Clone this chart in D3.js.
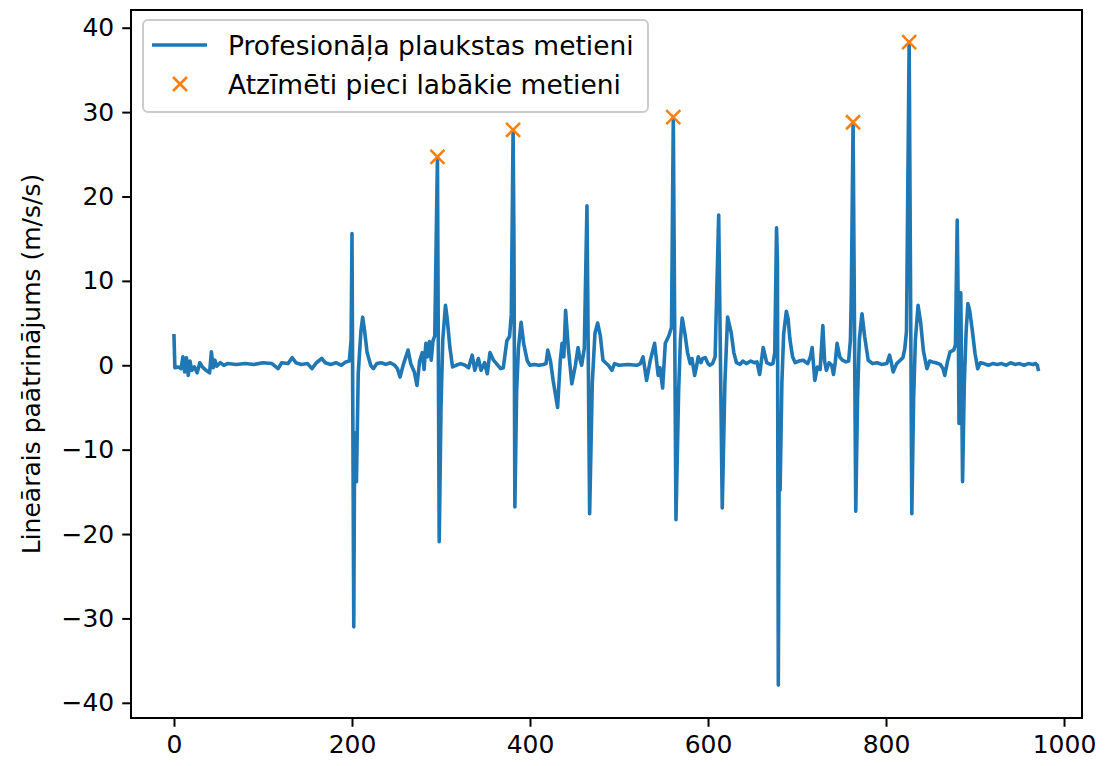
<!DOCTYPE html>
<html>
<head>
<meta charset="utf-8">
<script src="https://cdn.jsdelivr.net/npm/d3@7"></script>
<style>
  html, body { margin: 0; padding: 0; background: #fff; }
  svg { display: block; }
  text { font-family: "DejaVu Sans", sans-serif; fill: #000; }
</style>
</head>
<body>
<svg id="chart" width="1106" height="766"></svg>
<script>
// ---- data ----
const sampleIndex = [
  0,1,5,8,10,12,14,16,18,20,23,26,29,32,36,40,42,44,46,48,52,56,60,70,80,90,100,110,117,121,128,133,137,143,150,155,160,166,170,176,182,188,193,197,
  199,200,202,203,205,207,210,212,214,217,221,224,228,233,238,243,248,251,254,258,263,266,270,273,276,279,281,283,285,287,289,291,293,
  296,298,300,302,305,307,310,313,317,322,327,331,335,338,342,345,349,352,355,359,363,367,370,374,377,379,
  381,382,383,385,387,390,393,397,400,405,410,415,418,420,423,426,431,434,436,438,440,443,447,451,454,456,458,461,
  464,467,470,473,476,479,482,485,488,492,495,500,510,520,524,527,531,535,540,544,546,549,552,556,559,
  561,564,567,569,571,574,577,580,582,585,587,589,592,594,597,600,602,605,608,
  612,616,619,622,626,629,632,636,639,643,648,652,655,658,662,666,670,673,675,
  677,678,679,680,681,683,685,688,690,692,695,698,702,707,712,715,717,720,723,726,729,731,733,736,739,741,743,745,748,751,755,758,760,761,
  763,766,768,770,773,776,780,785,790,795,801,804,806,808,812,816,819,821,823,
  826,829,831,833,836,839,842,846,849,852,856,861,864,866,869,872,876,878,
  880,881,882,884,886,888,890,892,894,897,900,903,906,910,915,920,925,930,935,940,945,950,955,960,965,968,970,971
];
const acceleration = [
  3.5,-0.3,-0.2,-0.4,1.0,-0.8,0.9,-1.2,0.5,-0.6,-0.2,-0.9,0.3,-0.2,-0.6,-0.9,1.6,-0.3,0.6,-0.1,0.3,0.0,0.2,0.1,0.2,0.1,0.3,0.2,-0.4,0.3,0.2,0.9,0.3,0.1,0.2,-0.4,0.3,0.8,0.3,0.1,0.3,0.0,0.4,0.5,
  3.0,15.6,-31.0,-8.0,-13.8,-1.0,4.0,5.7,4.2,1.5,0.0,-0.4,0.2,0.3,0.1,0.3,0.0,-0.4,-1.4,0.2,1.8,0.2,-0.8,-2.4,0.5,1.5,-0.5,2.6,1.0,2.8,0.6,2.9,3.5,
  24.7,-20.9,-5.0,3.0,7.1,5.5,2.1,-0.2,0.0,0.2,0.0,-0.3,1.2,-0.6,0.8,-0.6,0.3,-1.0,1.5,0.6,0.1,-0.4,-0.3,2.9,3.4,6.0,
  27.9,14.4,-16.8,-3.0,2.0,5.1,2.5,0.5,0.0,0.1,0.0,0.1,0.2,1.8,0.5,-1.8,-5.0,0.5,2.6,1.0,6.5,2.1,-2.2,0.0,2.1,0.8,0.0,2.0,
  18.9,-17.6,-2.0,3.8,5.0,3.5,0.6,0.3,0.0,-0.6,0.2,0.0,0.1,0.0,0.2,1.0,-1.8,0.5,2.6,-1.2,-0.3,-2.7,2.6,3.5,4.5,
  29.4,-18.3,-3.0,3.0,5.6,3.8,1.5,0.2,0.8,-1.2,-0.2,1.0,0.3,0.8,0.9,0.2,0.0,0.2,1.0,
  17.8,-16.9,-2.0,5.7,3.9,1.5,0.3,0.1,0.5,0.2,0.5,0.3,0.4,-1.1,2.1,0.3,0.1,0.2,1.5,
  16.3,12.4,-37.9,-10.0,-14.8,-2.0,3.7,6.4,5.5,3.1,1.0,0.3,0.5,0.6,0.2,1.0,2.1,-1.8,-0.2,-0.5,4.7,0.5,-0.6,0.3,0.0,-1.1,0.4,2.6,1.0,0.6,0.4,0.5,3.0,8.4,
  28.8,-17.3,-4.0,3.0,6.1,3.4,0.6,0.2,0.3,0.1,0.2,1.2,0.3,-0.8,0.2,0.6,0.9,1.9,4.0,
  38.3,-17.6,-4.0,3.0,7.1,5.0,1.7,-0.4,0.5,0.4,0.3,0.1,-0.4,-1.2,0.4,1.6,1.8,2.4,
  17.2,8.0,-6.9,8.6,-13.8,-2.0,4.0,7.3,6.5,4.1,1.4,-0.4,0.3,0.2,0.0,0.2,0.1,0.2,0.0,0.3,0.1,0.2,0.0,0.2,0.1,0.2,0.0,-0.5
];
const bestIndex = [296, 381, 561, 763, 826];
const bestValue = [24.7, 27.9, 29.4, 28.8, 38.3];
const xTicks = [0, 200, 400, 600, 800, 1000];
const yTicks = [-40, -30, -20, -10, 0, 10, 20, 30, 40];
const lineLabel = "Profesionāļa plaukstas metieni";
const markerLabel = "Atzīmēti pieci labākie metieni";
const yLabel = "Lineārais paātrinājums (m/s/s)";

// ---- layout ----
const svg = d3.select("#chart");
const L = 131, R = 1082, T = 10, B = 718;
const FS = 25, LFS = 26.5;
const blue = "#1f77b4", orange = "#ff7f0e";

const x = d3.scaleLinear().domain([-48.3, 1020.2]).range([L, R]);
const y = d3.scaleLinear().domain([-41.8, 42.1]).range([B, T]);

const series = sampleIndex.map((d, i) => ({ x: d, y: acceleration[i] }));
const best = bestIndex.map((d, i) => ({ x: d, y: bestValue[i] }));

// line
svg.append("path")
  .datum(series)
  .attr("fill", "none")
  .attr("stroke", blue)
  .attr("stroke-width", 3.6)
  .attr("stroke-linejoin", "round")
  .attr("stroke-linecap", "square")
  .attr("d", d3.line().x(d => x(d.x)).y(d => y(d.y)));

// markers (x shape)
const ms = 7;
svg.append("g").selectAll("path").data(best).join("path")
  .attr("d", d => {
    const cx = x(d.x), cy = y(d.y);
    return `M${cx-ms},${cy-ms}L${cx+ms},${cy+ms}M${cx-ms},${cy+ms}L${cx+ms},${cy-ms}`;
  })
  .attr("stroke", orange)
  .attr("stroke-width", 2.6)
  .attr("fill", "none");

// axes
const xAxis = d3.axisBottom(x).tickValues(xTicks).tickSize(8.75).tickPadding(8).tickFormat(d3.format("d"));
const yAxis = d3.axisLeft(y).tickValues(yTicks).tickSize(8.75).tickPadding(8)
  .tickFormat(d => d < 0 ? "\u2212" + Math.abs(d) : String(d));

const gx = svg.append("g").attr("transform", `translate(0,${B})`).call(xAxis);
const gy = svg.append("g").attr("transform", `translate(${L},0)`).call(yAxis);
[gx, gy].forEach(g => {
  g.select(".domain").remove();
  g.selectAll(".tick line").attr("stroke", "#000").attr("stroke-width", 2);
  g.selectAll(".tick text").attr("font-size", FS).attr("font-family", "DejaVu Sans").attr("fill", "#000");
});

// frame
svg.append("rect").attr("x", L).attr("y", T).attr("width", R - L).attr("height", B - T)
  .attr("fill", "none").attr("stroke", "#000").attr("stroke-width", 2);

// y label
svg.append("text")
  .attr("transform", `translate(31,${(T + B) / 2}) rotate(-90)`)
  .attr("text-anchor", "middle")
  .attr("dominant-baseline", "central")
  .attr("font-size", FS)
  .text(yLabel);

// legend
const lg = svg.append("g");
lg.append("rect").attr("x", 143).attr("y", 20).attr("width", 505).attr("height", 92)
  .attr("rx", 5).attr("fill", "#fff").attr("fill-opacity", 0.8)
  .attr("stroke", "#cccccc").attr("stroke-width", 2);
lg.append("line").attr("x1", 152).attr("x2", 207).attr("y1", 45).attr("y2", 45)
  .attr("stroke", blue).attr("stroke-width", 3.6);
lg.append("path")
  .attr("d", `M${180-ms},${84-ms}L${180+ms},${84+ms}M${180-ms},${84+ms}L${180+ms},${84-ms}`)
  .attr("stroke", orange).attr("stroke-width", 2.6);
lg.append("text").attr("x", 228).attr("y", 45).attr("dominant-baseline", "central")
  .attr("font-size", LFS).text(lineLabel);
lg.append("text").attr("x", 228).attr("y", 84).attr("dominant-baseline", "central")
  .attr("font-size", LFS).text(markerLabel);
</script>
</body>
</html>
